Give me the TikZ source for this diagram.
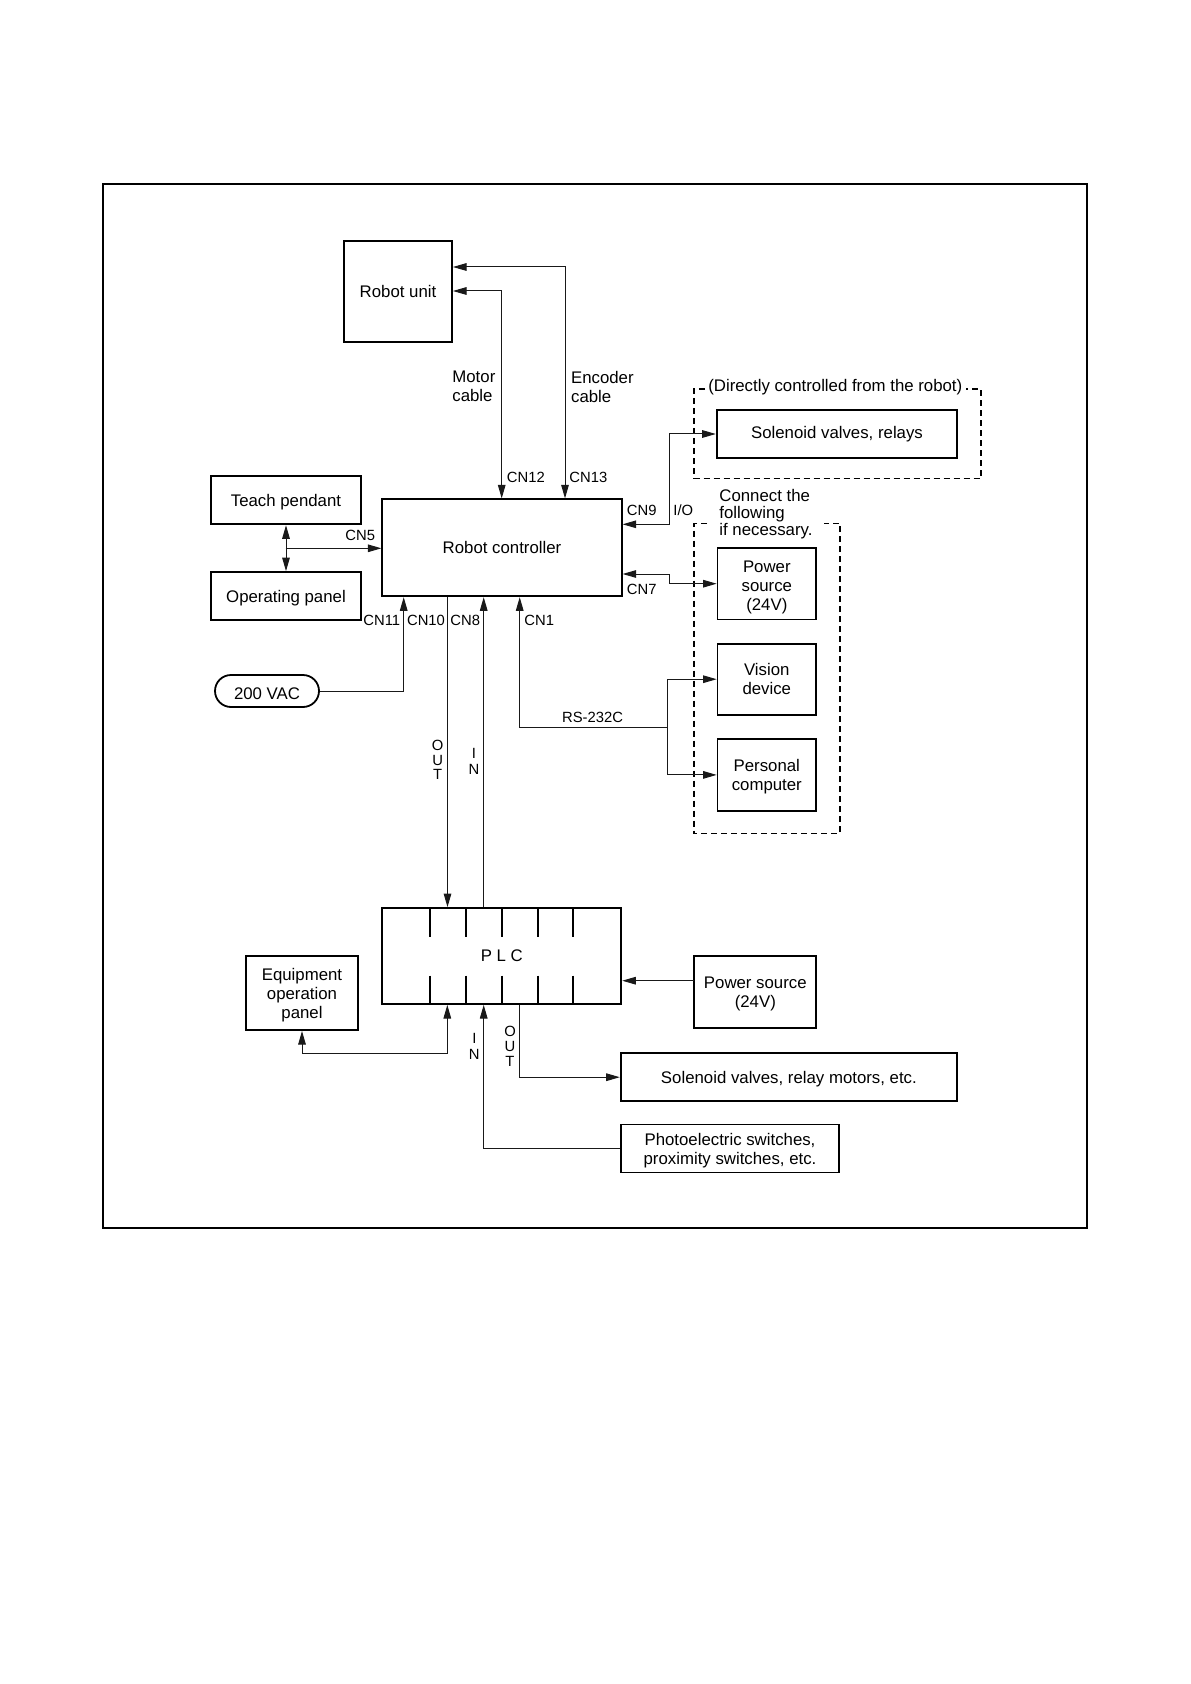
\documentclass[tikz,border=0pt]{standalone}
\usepackage{fontspec}
\setmainfont{Liberation Sans}
\usetikzlibrary{arrows.meta,calc}
\newcommand{\tup}{\rule{0pt}{8.2pt}}
\begin{document}
\begin{tikzpicture}[x=0.5pt,y=-0.5pt,
  box/.style={draw, line width=0.9pt, inner sep=0pt, align=center, font=\fontsize{8.4}{9.5}\selectfont},
  conn/.style={line width=0.5pt, black!90, -{Triangle[length=6.8pt,width=3.8pt]}},
  dbl/.style={line width=0.5pt, black!90, {Triangle[length=6.8pt,width=3.8pt]}-{Triangle[length=6.8pt,width=3.8pt]}},
  lbl/.style={inner sep=0pt, font=\fontsize{7.4}{8.5}\selectfont},
  txt/.style={inner sep=0pt, align=left, font=\fontsize{8.4}{9.5}\selectfont},
  dashbox/.style={line width=0.8pt, dash pattern=on 3pt off 2pt},
  tick/.style={line width=0.9pt}
]
\useasboundingbox (0,0) rectangle (1190,1684);
\draw[line width=0.9pt] (103.3,184) rectangle (1087,1227.7);

% boxes
\node[box, minimum width=54pt, minimum height=50.5pt] (ru) at (398,291.5) {Robot unit};
\node[box, minimum width=119.7pt, minimum height=48.5pt] (rc) at (502,547.8) {Robot controller};
\node[box, minimum width=75pt, minimum height=24.15pt] (tp) at (286,500.2) {\tup Teach pendant};
\node[box, minimum width=75pt, minimum height=24.15pt] (op) at (286,596.2) {\tup Operating panel};
\node[box, rounded corners=8pt, minimum width=52pt, minimum height=16pt] (vac) at (267,691) {\tup 200 VAC};
\node[box, minimum width=120.3pt, minimum height=23.7pt] (sol1) at (837,434) {Solenoid valves, relays};
\node[box, minimum width=49.25pt, minimum height=35.7pt] (ps1) at (766.8,583.7) {\rule{0pt}{9.6pt}Power\\source\\(24V)};
\node[box, minimum width=49.25pt, minimum height=35.5pt] (vis) at (766.8,679.2) {Vision\\device};
\node[box, minimum width=49.25pt, minimum height=35.8pt] (pc) at (766.8,774.9) {\tup Personal\\computer};
\node[box, minimum width=119.5pt, minimum height=48pt] (plc) at (501.8,956) {P L C};
\node[box, minimum width=56pt, minimum height=37.2pt] (equ) at (302,992.9) {\tup Equipment\\operation\\panel};
\node[box, minimum width=61pt, minimum height=36pt] (ps2) at (755.3,992) {\tup Power source\\(24V)};
\node[box, minimum width=168.2pt, minimum height=23.9pt] (sol2) at (788.9,1077.2) {\tup Solenoid valves, relay motors, etc.};
\node[box, minimum width=109.3pt, minimum height=24pt] (ph) at (730,1148.4) {\tup Photoelectric switches,\\proximity switches, etc.};

% PLC ticks
\foreach \x in {430,466,501.7,537.7,573.3} {
  \draw[tick] (\x,908) -- (\x,936.7) (\x,975.7) -- (\x,1004);
}

% dashed groups
\draw[dashbox] (705,389) -- (694,389) -- (694,478.3) -- (981,478.3) -- (981,389) -- (966,389);
\draw[dashbox] (707,523.5) -- (694,523.5) -- (694,833.3) -- (840,833.3) -- (840,523.5) -- (824,523.5);

% labels
\node[txt, anchor=west] (lmot) at (452,386.5) {Motor\\cable};
\node[txt, anchor=west] (lenc) at (570.7,386.5) {Encoder\\cable};
\node[lbl, anchor=west] (l12) at (506.5,477) {CN12};
\node[lbl, anchor=west] (l13) at (569,477) {CN13};
\node[lbl, anchor=west] (l9) at (626.5,510.5) {CN9};
\node[lbl, anchor=west] (lio) at (673,510) {I/O};
\node[lbl, anchor=west] (l7) at (626.5,589) {CN7};
\node[lbl, anchor=west] (l5) at (345,535) {CN5};
\node[lbl, anchor=west] (l11) at (363,620.5) {CN11};
\node[lbl, anchor=west] (l10) at (406.7,620.5) {CN10};
\node[lbl, anchor=west] (l8) at (450,620.5) {CN8};
\node[lbl, anchor=west] (l1) at (524,620.5) {CN1};
\node[lbl, anchor=west] (lrs) at (561.7,717) {RS-232C};
\node[lbl, align=center, font=\fontsize{7.4}{7.25}\selectfont] (lout1) at (437.7,760.3) {O\\U\\T};
\node[lbl, align=center, font=\fontsize{7.4}{8}\selectfont] (lin1) at (474,761) {I\\N};
\node[lbl, align=center, font=\fontsize{7.4}{8}\selectfont] (lin2) at (474.3,1046) {I\\N};
\node[lbl, align=center, font=\fontsize{7.4}{7.3}\selectfont] (lout2) at (510,1046.3) {O\\U\\T};
\node[txt, anchor=north west, font=\fontsize{8.4}{8.5}\selectfont] (lcon) at (719,488.5) {Connect the\\following\\if necessary.};
\node[txt] (ldir) at (835.3,387.5) {(Directly controlled from the robot)};

% connectors
\coordinate (mot) at (501.7,291);
\coordinate (enc) at (565,267);
\draw[dbl] (ru.east |- mot) -- (mot) -- (mot |- rc.north);
\draw[dbl] (ru.east |- enc) -- (enc) -- (enc |- rc.north);

\coordinate (cn5) at (285.7,548.3);
\draw[dbl] (tp.south) -- (op.north);
\draw[conn] (cn5) -- (rc.west |- cn5);

\coordinate (c11) at (403.7,691);
\draw[conn] (vac.east) -- (c11) -- (c11 |- rc.south);
\coordinate (c10) at (447.5,700);
\draw[conn] (c10 |- rc.south) -- (c10 |- plc.north);
\coordinate (c8) at (483.7,700);
\draw[conn] (c8 |- plc.north) -- (c8 |- rc.south);

\coordinate (c1) at (519.7,727.5);
\coordinate (rsb) at (667.6,727.5);
\draw[conn] (rsb) -- (c1) -- (c1 |- rc.south);
\draw[conn] (rsb) -- (rsb |- vis.west) -- (vis.west);
\draw[conn] (rsb) -- (rsb |- pc.west) -- (pc.west);

\coordinate (c9) at (669.3,524.3);
\draw[dbl] (rc.east |- c9) -- (c9) -- (c9 |- sol1.west) -- (sol1.west);
\coordinate (c7) at (669.3,574);
\draw[dbl] (rc.east |- c7) -- (c7) -- (c7 |- ps1.west) -- (ps1.west);

\coordinate (eq) at (447.3,1053);
\draw[dbl] (eq |- plc.south) -- (eq) -- (eq -| equ.south) -- (equ.south);
\coordinate (pin) at (483.7,1148.4);
\draw[conn] (ph.west) -- (pin) -- (pin |- plc.south);
\coordinate (pout) at (519.3,1077.2);
\draw[conn] (pout |- plc.south) -- (pout) -- (sol2.west);
\coordinate (p2) at (694.3,980.7);
\draw[conn] (p2) -- (p2 -| plc.east);
\end{tikzpicture}
\end{document}
